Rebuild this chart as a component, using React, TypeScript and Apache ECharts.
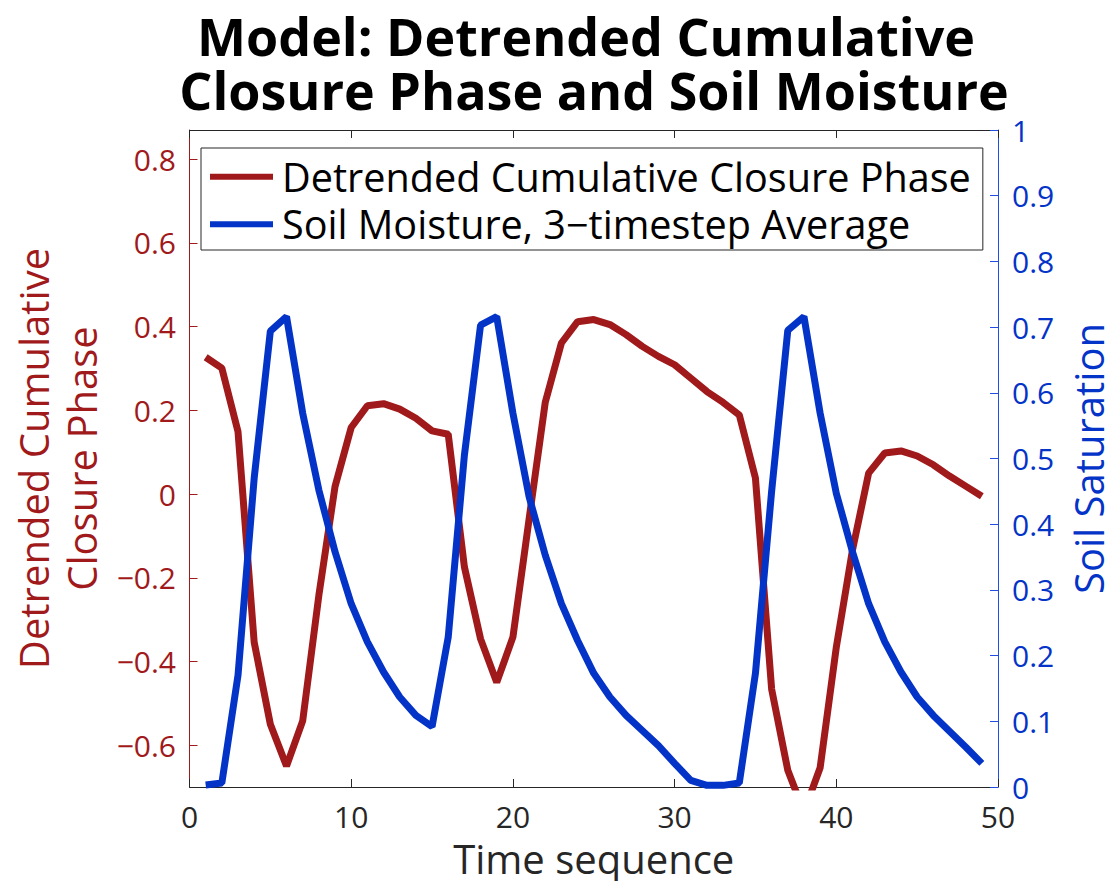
import React, { useEffect, useRef } from "react";
import * as echarts from "echarts";

const timeSteps = [1,2,3,4,5,6,7,8,9,10,11,12,13,14,15,16,17,18,19,20,21,22,23,24,25,26,27,28,29,30,31,32,33,34,35,36,37,38,39,40,41,42,43,44,45,46,47,48,49];
const closurePhase = [0.327,0.301,0.149,-0.354,-0.55,-0.65,-0.542,-0.242,0.018,0.159,0.211,0.216,0.203,0.181,0.151,0.143,-0.174,-0.346,-0.45,-0.342,-0.06,0.219,0.361,0.412,0.417,0.405,0.381,0.353,0.329,0.309,0.277,0.245,0.219,0.189,0.038,-0.466,-0.66,-0.76,-0.654,-0.366,-0.134,0.05,0.098,0.103,0.091,0.07,0.043,0.019,-0.005];
const soilMoisture = [0.003,0.006,0.17,0.47,0.694,0.716,0.569,0.452,0.358,0.279,0.221,0.175,0.137,0.109,0.092,0.228,0.505,0.703,0.716,0.569,0.442,0.353,0.279,0.223,0.173,0.137,0.109,0.086,0.063,0.036,0.01,0.0025,0.0025,0.006,0.173,0.45,0.695,0.716,0.569,0.447,0.358,0.279,0.221,0.175,0.137,0.109,0.085,0.061,0.036];
const leftTicks = [-0.6,-0.4,-0.2,0,0.2,0.4,0.6,0.8];
const seriesNames = ["Detrended Cumulative Closure Phase", "Soil Moisture, 3\u2212timestep Average"];
const titleLines = ["Model: Detrended Cumulative", "Closure Phase and Soil Moisture"];

const RED = "#A0191B";
const BLUE = "#0433C8";
const BLUE_AXIS = "#1F4FE0";
const GRAY = "#262626";
const FONT = "Open Sans";

export default function App() {
  const ref = useRef<HTMLDivElement>(null);
  useEffect(() => {
    const chart = echarts.init(ref.current!, null, { renderer: "svg" });
    const fmt = (v: number) => {
      const r = Math.round(v * 10) / 10;
      const s = String(Math.abs(r));
      return r < 0 ? "\u2212" + s : s;
    };
    const titleStyle = { fontFamily: FONT, fontWeight: "bold", fontSize: 52, lineHeight: 54, color: "#000" };
    chart.setOption({
      animation: false,
      backgroundColor: "#fff",
      textStyle: { fontFamily: FONT },
      title: [
        { text: titleLines[0], left: 586, top: 8, textAlign: "center", padding: 0, textStyle: titleStyle },
        { text: titleLines[1], left: 594, top: 62, textAlign: "center", padding: 0, textStyle: titleStyle },
      ],
      legend: {
        orient: "vertical",
        left: 201,
        top: 148,
        padding: [8.7, 12, 5.7, 9],
        itemGap: 7.6,
        itemWidth: 63,
        itemHeight: 6,
        icon: "rect",
        borderColor: GRAY,
        borderWidth: 1,
        backgroundColor: "#fff",
        textStyle: { fontFamily: FONT, fontSize: 39.6, color: "#000", lineHeight: 40, padding: [0, 0, 0, 4] },
        data: seriesNames,
      },
      grid: { left: 189.5, right: 112, top: 130, bottom: 94, containLabel: false, outerBoundsMode: "none" },
      xAxis: [
        {
          type: "value",
          min: 0,
          max: 50,
          interval: 10,
          position: "bottom",
          name: "Time sequence",
          nameLocation: "middle",
          nameGap: 51,
          nameTextStyle: { fontFamily: FONT, fontSize: 40, color: GRAY, lineHeight: 40 },
          axisLine: { show: true, onZero: false, lineStyle: { color: GRAY, width: 1 } },
          axisTick: { show: true, inside: true, length: 8, lineStyle: { color: GRAY } },
          axisLabel: { fontFamily: FONT, fontSize: 30, color: GRAY, margin: 14, lineHeight: 30 },
          splitLine: { show: false },
        },
        {
          type: "value",
          min: 0,
          max: 50,
          interval: 10,
          position: "top",
          axisLine: { show: true, onZero: false, lineStyle: { color: GRAY, width: 1 } },
          axisTick: { show: true, inside: true, length: 8, lineStyle: { color: GRAY } },
          axisLabel: { show: false },
          splitLine: { show: false },
        },
      ],
      yAxis: [
        {
          type: "value",
          min: -0.7,
          max: 0.87,
          position: "left",
          name: "Detrended Cumulative\nClosure Phase",
          nameLocation: "middle",
          nameGap: 77.5,
          nameRotate: 90,
          nameTextStyle: { fontFamily: FONT, fontSize: 40, color: RED, lineHeight: 48 },
          axisLine: { show: true, onZero: false, lineStyle: { color: RED, width: 1 } },
          axisTick: { show: true, inside: true, length: 8, customValues: leftTicks, lineStyle: { color: RED } },
          axisLabel: { fontFamily: FONT, fontSize: 30, color: RED, margin: 13.5, lineHeight: 30, customValues: leftTicks, formatter: fmt },
          splitLine: { show: false },
        },
        {
          type: "value",
          min: 0,
          max: 1,
          interval: 0.1,
          position: "right",
          name: "Soil Saturation",
          nameLocation: "middle",
          nameGap: 70,
          nameRotate: 90,
          nameTextStyle: { fontFamily: FONT, fontSize: 40, color: BLUE, lineHeight: 40 },
          axisLine: { show: true, onZero: false, lineStyle: { color: BLUE_AXIS, width: 1 } },
          axisTick: { show: true, inside: true, length: 8, lineStyle: { color: BLUE_AXIS } },
          axisLabel: { fontFamily: FONT, fontSize: 30, color: BLUE, margin: 14, lineHeight: 30, formatter: fmt },
          splitLine: { show: false },
        },
      ],
      series: [
        {
          name: seriesNames[0],
          type: "line",
          xAxisIndex: 0,
          yAxisIndex: 0,
          data: timeSteps.map((t, i) => [t, closurePhase[i]]),
          symbol: "none",
          clip: true,
          lineStyle: { color: RED, width: 7 },
          itemStyle: { color: RED },
          z: 2,
        },
        {
          name: seriesNames[1],
          type: "line",
          xAxisIndex: 0,
          yAxisIndex: 1,
          data: timeSteps.map((t, i) => [t, soilMoisture[i]]),
          symbol: "none",
          clip: true,
          lineStyle: { color: BLUE, width: 7 },
          itemStyle: { color: BLUE },
          z: 3,
        },
      ],
    });
    return () => chart.dispose();
  }, []);
  return <div ref={ref} style={{ position: "fixed", left: 0, top: 0, width: 1110, height: 881 }} />;
}
